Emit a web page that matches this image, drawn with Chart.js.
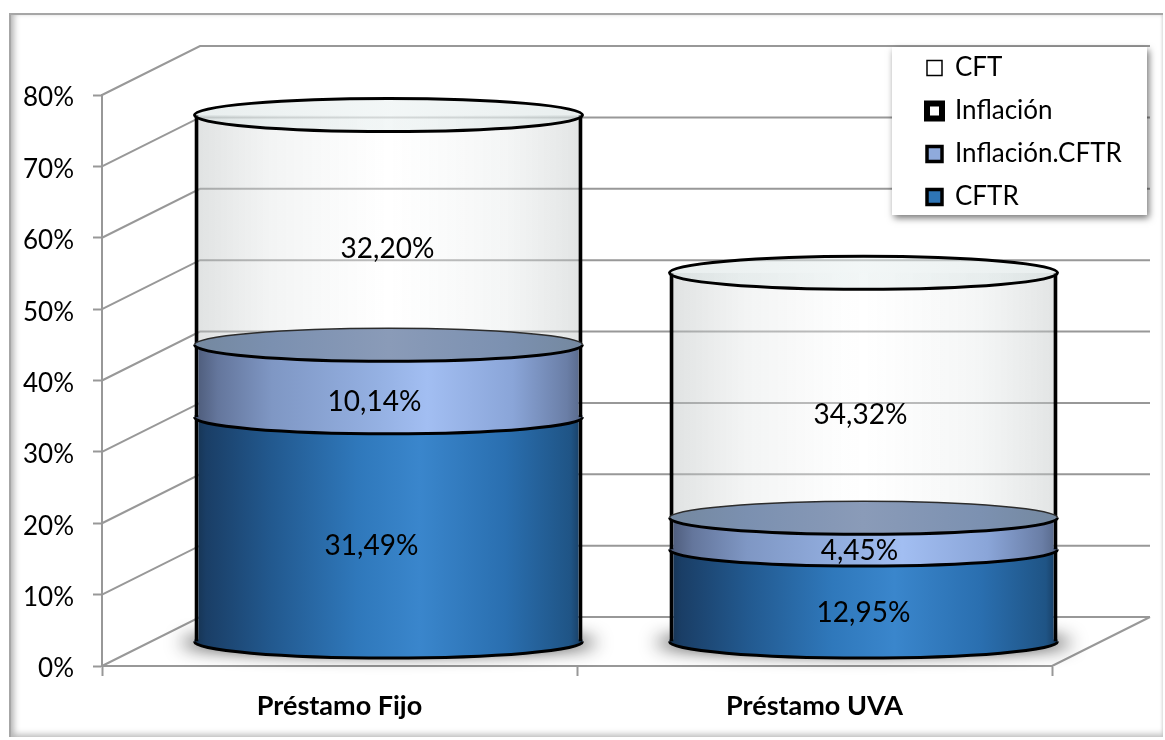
<!DOCTYPE html>
<html>
<head>
<meta charset="utf-8">
<title>Préstamo Fijo / UVA</title>
<script src="https://cdn.jsdelivr.net/npm/chart.js@4"></script>
<style>
  html, body { margin:0; padding:0; background:#fff; }
  #wrap { position:relative; width:1165px; height:740px; overflow:hidden; }
  #frame { position:absolute; left:9px; top:13px; width:1152px; height:722px; background:#fff;
    border-top:2px solid #a6a6a6; border-left:2px solid #a6a6a6;
    box-shadow: inset 6px 0 6px -3px #b4b4b4, inset 0 -7px 6px -4px #c4c4c4, inset -2px 0 3px -1px #d8d8d8; }
  canvas { position:absolute; left:0; top:0; }
</style>
</head>
<body>
<div id="wrap">
  <div id="frame"></div>
  <canvas id="chart" width="1165" height="740"></canvas>
</div>
<script>
const categories = ['Préstamo Fijo', 'Préstamo UVA'];
const cftrValues = [31.49, 12.95];
const inflacionCftrValues = [10.14, 4.45];
const inflacionValues = [0, 0];
const cftValues = [32.20, 34.32];
const seriesNames = ['CFTR', 'Inflación.CFTR', 'Inflación', 'CFT'];
const yTicks = [0, 10, 20, 30, 40, 50, 60, 70, 80];

const FONT = 'Lato, Carlito, sans-serif';
const GREY = '#989898';
const DEPTH_X = 98, DEPTH_Y = 49;     // back wall offset from the front axes
const CYL_X = 49, CYL_Y = -24;        // cylinders stand halfway into the floor
const RY = 16.5;

// hand placed label nudges, per cylinder: cftr, band, cft
const labelNudge = [
  [[-17, 17], [-14, 21], [-1, 19]],
  [[0, 17], [-4, 17], [-3, 20]]
];

const bodyStops = {
  CFTR: [[0,'#16324f'],[.03,'#1a3e66'],[.2,'#22598f'],[.42,'#2f78bb'],[.58,'#3a86cc'],[.8,'#2a6fb0'],[.97,'#1f5485'],[1,'#173a5e']],
  'Inflación.CFTR': [[0,'#4c5a78'],[.06,'#64769c'],[.2,'#7f97c4'],[.48,'#95b1e3'],[.6,'#a2bef2'],[.82,'#8aa5d8'],[.96,'#6a7ea6'],[1,'#566788']],
  CFT: [[0,'rgba(185,190,190,.45)'],[.2,'rgba(225,228,228,.4)'],[.5,'rgba(255,255,255,.35)'],[.8,'rgba(228,232,232,.4)'],[1,'rgba(190,195,195,.45)']]
};
const capStops = {
  'Inflación.CFTR': [[0,'#74889f'],[.2,'#7b90b0'],[.5,'#8a9bb8'],[.8,'#7c91b1'],[1,'#74889f']],
  CFT: [[0,'rgba(215,225,225,.55)'],[.5,'rgba(232,240,240,.55)'],[1,'rgba(215,225,225,.55)']]
};

function hGradient(ctx, stops, left, right) {
  const g = ctx.createLinearGradient(left, 0, right, 0);
  stops.forEach(s => g.addColorStop(s[0], s[1]));
  return g;
}

const wallPlugin = {
  id: 'wall',
  beforeDraw(chart) {
    const { ctx, chartArea: a, scales: { y } } = chart;
    ctx.save();
    ctx.strokeStyle = GREY;
    ctx.lineWidth = 2;
    yTicks.forEach(t => {
      const py = y.getPixelForValue(t);
      ctx.beginPath();
      ctx.moveTo(a.left, py);
      ctx.lineTo(a.left + DEPTH_X, py - DEPTH_Y);
      ctx.lineTo(a.right + DEPTH_X, py - DEPTH_Y);
      ctx.stroke();
    });
    // right edge of the floor
    const p0 = y.getPixelForValue(0);
    ctx.beginPath();
    ctx.moveTo(a.right + DEPTH_X, p0 - DEPTH_Y);
    ctx.lineTo(a.right, p0);
    ctx.stroke();
    // legend panel
    ctx.shadowColor = 'rgba(0,0,0,.55)';
    ctx.shadowBlur = 7;
    ctx.shadowOffsetX = 2;
    ctx.shadowOffsetY = 3;
    ctx.fillStyle = '#fff';
    ctx.fillRect(892, 47, 255, 168);
    ctx.restore();
  }
};

const cylinderPlugin = {
  id: 'cylinder',
  beforeDatasetsDraw(chart) {
    const { ctx } = chart;
    const metaOf = name => chart.getDatasetMeta(seriesNames.indexOf(name));

    function ellipse(bar, y, start, end) {
      ctx.beginPath();
      ctx.ellipse(bar.x, y, bar.width / 2, RY, 0, start, end);
    }
    function body(name, bar, bulge) {
      const left = bar.x - bar.width / 2, right = bar.x + bar.width / 2;
      const g = hGradient(ctx, bodyStops[name], left, right);
      if (bulge) {
        ctx.fillStyle = g;
        ctx.fillRect(left, bar.base - 2, bar.width, 4); // hides the seam under the bar
        ellipse(bar, bar.base, 0, Math.PI);
        ctx.fill();
        ctx.strokeStyle = '#000';
        ctx.lineWidth = 3;
        ctx.stroke();
      }
      bar.options.backgroundColor = g;
      bar.options.borderColor = '#000';
      bar.options.borderWidth = { left: 4, right: 4, top: 0, bottom: 0 };
      bar.options.borderSkipped = false;
      bar.draw(ctx);
    }
    function cap(name, bar, thin) {
      const left = bar.x - bar.width / 2, right = bar.x + bar.width / 2;
      ellipse(bar, bar.y, 0, Math.PI * 2);
      ctx.fillStyle = hGradient(ctx, capStops[name], left, right);
      ctx.fill();
      ctx.strokeStyle = '#000';
      ctx.lineWidth = 3;
      if (thin) {
        ellipse(bar, bar.y, 0, Math.PI);
        ctx.stroke();
        ellipse(bar, bar.y, Math.PI, Math.PI * 2);
        ctx.strokeStyle = '#2c2c2c';
        ctx.lineWidth = 1.5;
        ctx.stroke();
      } else {
        ctx.stroke();
      }
    }

    ctx.save();
    ctx.translate(CYL_X, CYL_Y);
    categories.forEach((c, i) => {
      const cftr = metaOf('CFTR').data[i];
      const mid = metaOf('Inflación.CFTR').data[i];
      const top = metaOf('CFT').data[i];
      // floor shadow: shape is drawn off canvas so only its blur lands here
      ctx.save();
      ctx.shadowColor = 'rgba(0,0,0,.9)';
      ctx.shadowBlur = 18;
      ctx.shadowOffsetX = 3000;
      ctx.fillStyle = '#000';
      ctx.beginPath();
      ctx.ellipse(cftr.x - 3000, cftr.base + 1, cftr.width / 2 + 14, RY - 6, 0, 0, Math.PI * 2);
      ctx.fill();
      ctx.restore();

      body('CFTR', cftr, true);
      body('Inflación.CFTR', mid, true);
      body('CFT', top, false);
      cap('Inflación.CFTR', mid, true);
      cap('CFT', top, false);

      ctx.fillStyle = '#000';
      ctx.font = '28px ' + FONT;
      ctx.textAlign = 'center';
      ctx.textBaseline = 'middle';
      [[cftr, cftrValues], [mid, inflacionCftrValues], [top, cftValues]].forEach((pair, k) => {
        const bar = pair[0];
        const nudge = labelNudge[i][k];
        ctx.fillText(pair[1][i].toFixed(2).replace('.', ',') + '%', bar.x + nudge[0], (bar.y + bar.base) / 2 + nudge[1]);
      });
    });
    ctx.restore();
    return false;
  }
};

const legendMovePlugin = {
  id: 'legendMove',
  afterLayout(chart) {
    const l = chart.legend;
    const w = l.width, h = l.height;
    l.left = 910; l.top = 38;
    l.right = l.left + w; l.bottom = l.top + h;
  }
};

const legendLineWidths = { CFT: 1.5, 'Inflación': 6, 'Inflación.CFTR': 3.5, CFTR: 3.5 };

new Chart(document.getElementById('chart').getContext('2d'), {
  type: 'bar',
  data: {
    labels: categories,
    datasets: [
      { label: seriesNames[0], data: cftrValues, backgroundColor: '#2e75b6', borderColor: '#000' },
      { label: seriesNames[1], data: inflacionCftrValues, backgroundColor: '#8faadc', borderColor: '#000' },
      { label: seriesNames[2], data: inflacionValues, backgroundColor: '#fff', borderColor: '#000' },
      { label: seriesNames[3], data: cftValues, backgroundColor: '#fff', borderColor: '#000' }
    ]
  },
  options: {
    responsive: false,
    animation: false,
    barPercentage: 0.817,
    categoryPercentage: 1,
    layout: { padding: { top: 95, right: 113, left: 0, bottom: 0 } },
    scales: {
      x: {
        stacked: true,
        afterFit: s => { s.height = 74; },
        border: { color: GREY, width: 2 },
        grid: { drawOnChartArea: false, color: GREY, tickColor: GREY, tickLength: 10, tickWidth: 2 },
        ticks: { color: '#000', font: { family: FONT, size: 27, weight: 'bold' }, padding: 14, maxRotation: 0 }
      },
      y: {
        stacked: true,
        min: 0,
        max: 80,
        afterFit: s => { s.width = 102; },
        afterBuildTicks: s => { s.ticks = yTicks.map(v => ({ value: v })); },
        border: { color: GREY, width: 2 },
        grid: { drawOnChartArea: false, color: GREY, tickColor: GREY, tickLength: 9, tickWidth: 2 },
        ticks: { color: '#000', font: { family: FONT, size: 26 }, padding: 19, labelOffset: 3, callback: v => v + '%' }
      }
    },
    plugins: {
      tooltip: { enabled: false },
      legend: {
        position: 'chartArea',
        align: 'start',
        reverse: true,
        labels: {
          boxWidth: 15,
          boxHeight: 15,
          padding: 17,
          color: '#000',
          font: { family: FONT, size: 26 },
          generateLabels: chart => Chart.defaults.plugins.legend.labels.generateLabels(chart).map(item => {
            item.lineWidth = legendLineWidths[item.text];
            return item;
          })
        }
      }
    }
  },
  plugins: [wallPlugin, cylinderPlugin, legendMovePlugin]
});
</script>
</body>
</html>
